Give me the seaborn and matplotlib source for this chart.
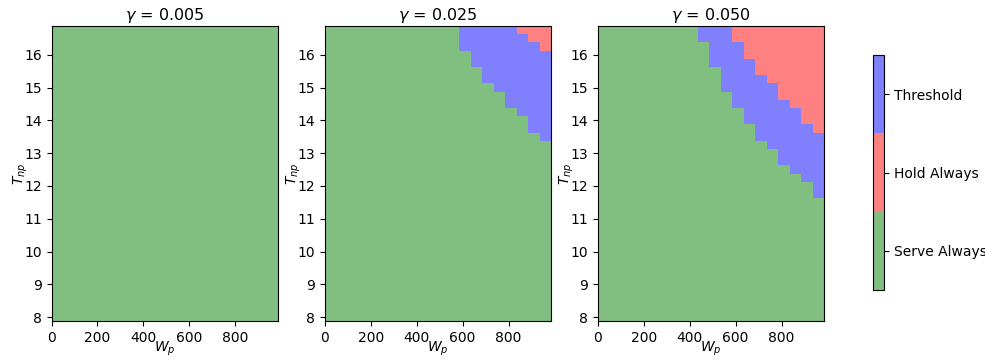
import numpy as np
import matplotlib
matplotlib.use("Agg")
import matplotlib.pyplot as plt
from matplotlib.colors import ListedColormap, BoundaryNorm
import seaborn as sns

# ---- data -------------------------------------------------------------
gammas = [0.005, 0.025, 0.050]
W_p = list(range(10, 1000, 50))               # column centres
T_np = list(np.arange(8.0, 17.0, 0.25))        # row centres
policy_labels = ["Serve Always", "Hold Always", "Threshold"]

# first T_np value (per W_p column) where the Threshold policy starts
thr_start_g005 = {}
thr_start_g025 = {610: 16.25, 660: 15.75, 710: 15.25, 760: 15.0,
                  810: 14.5, 860: 14.25, 910: 13.75, 960: 13.5}
thr_start_g050 = {460: 16.5, 510: 15.75, 560: 15.0, 610: 14.5, 660: 14.0,
                  710: 13.5, 760: 13.25, 810: 12.75, 860: 12.5, 910: 12.25,
                  960: 11.75}
# first T_np value (per W_p column) where Hold Always starts
hold_start_g005 = {}
hold_start_g025 = {860: 16.75, 910: 16.5, 960: 16.25}
hold_start_g050 = {610: 16.5, 660: 16.0, 710: 15.5, 760: 15.25,
                   810: 14.75, 860: 14.5, 910: 14.0, 960: 13.75}

thr_starts = [thr_start_g005, thr_start_g025, thr_start_g050]
hold_starts = [hold_start_g005, hold_start_g025, hold_start_g050]


def build_grid(thr, hold):
    Z = np.zeros((len(T_np), len(W_p)))
    for j, w in enumerate(W_p):
        for i, t in enumerate(T_np):
            if w in thr and t >= thr[w] - 1e-9:
                Z[i, j] = 2
            if w in hold and t >= hold[w] - 1e-9:
                Z[i, j] = 1
    return Z


# ---- style ------------------------------------------------------------
sns.set_theme(style="ticks")
plt.rcParams.update({
    "font.family": ["DejaVu Sans"],
    "axes.edgecolor": "black",
    "axes.linewidth": 0.8,
    "xtick.color": "black",
    "ytick.color": "black",
    "xtick.labelsize": 10,
    "ytick.labelsize": 10,
    "xtick.major.size": 3.5,
    "ytick.major.size": 3.5,
    "xtick.major.width": 0.8,
    "ytick.major.width": 0.8,
    "xtick.minor.visible": False,
    "ytick.minor.visible": False,
    "axes.labelsize": 10,
    "axes.titlesize": 11.5,
    "text.color": "black",
    "axes.labelcolor": "black",
})

colors = ["#80bf80", "#ff8080", "#8080ff"]
cmap = ListedColormap(colors)
norm = BoundaryNorm([-0.5, 0.5, 1.5, 2.5], cmap.N)

fig = plt.figure(figsize=(9.85, 3.6), dpi=100)
lefts = [51.5, 324.7, 597.7]
W, H = 985.0, 360.0
mesh = None
for k, g in enumerate(gammas):
    ax = fig.add_axes([lefts[k] / W, (H - 321.3) / H, 226.5 / W, 295.3 / H])
    Z = build_grid(thr_starts[k], hold_starts[k])
    mesh = ax.pcolormesh(W_p, T_np, Z, cmap=cmap, norm=norm,
                         shading="nearest")
    ax.set_xlim(0, 985)
    ax.set_ylim(7.875, 16.875)
    ax.set_xticks([0, 200, 400, 600, 800])
    ax.set_yticks(list(range(8, 17)))
    ax.set_xlabel("$W_p$", labelpad=-4)
    ax.set_ylabel("$T_{np}$", labelpad=-4)
    ax.set_title(f"$\\gamma$ = {g:.3f}", pad=4)
    for s in ax.spines.values():
        s.set_visible(True)

cax = fig.add_axes([873.3 / W, (H - 290) / H, 11 / W, 235 / H])
cb = fig.colorbar(mesh, cax=cax, ticks=[0, 1, 2])
cb.ax.minorticks_off()
cb.ax.set_yticks([0, 1, 2])
cb.ax.set_yticklabels(policy_labels)
cb.ax.tick_params(axis="y", which="major", length=3.5, width=0.8,
                  right=True, left=False)
cb.outline.set_linewidth(0.8)
cb.outline.set_edgecolor("black")

fig.savefig("out.png", dpi=100)
